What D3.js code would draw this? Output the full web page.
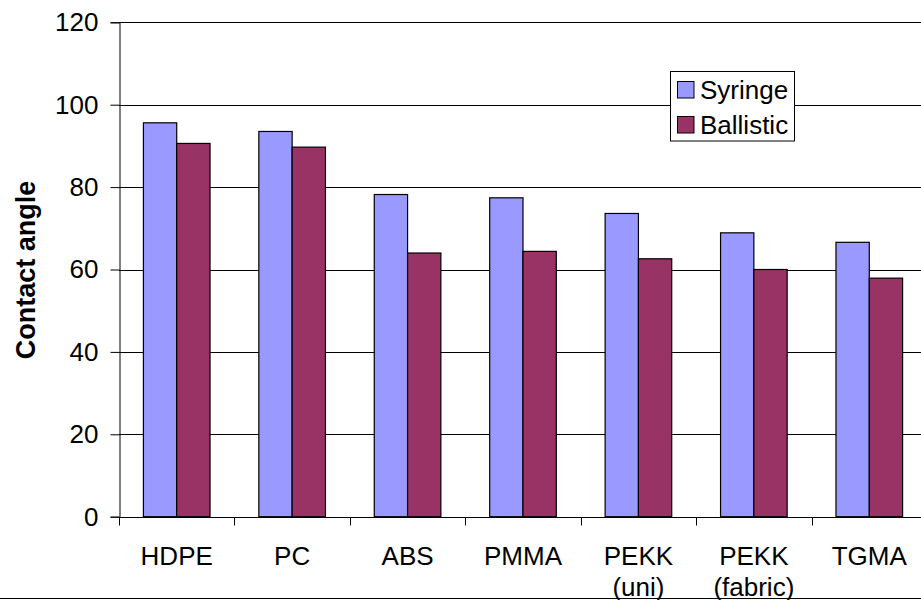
<!DOCTYPE html>
<html><head><meta charset="utf-8">
<script src="https://cdn.jsdelivr.net/npm/d3@7"></script>
<style>
html,body{margin:0;padding:0;background:#fff;overflow:hidden;}
text{font-family:"Liberation Sans",Arial,sans-serif;}
</style></head>
<body>
<svg id="c" width="921" height="600"></svg>
<script>
const categories = [["HDPE"],["PC"],["ABS"],["PMMA"],["PEKK","(uni)"],["PEKK","(fabric)"],["TGMA"]];
const seriesNames = ["Syringe","Ballistic"];
const syringe = [95.6, 93.5, 78.2, 77.4, 73.6, 68.9, 66.6];
const ballistic = [90.6, 89.7, 64.0, 64.4, 62.6, 60.0, 57.9];
const yTicks = [0,20,40,60,80,100,120];
const colors = ["#9999FF","#993366"];

(function(){
const svg = d3.select("#c");
const pLeft = 119, pRight = 927, pTop = 22.3, pBottom = 516.7;
const cats = categories.map(c => c.join(" "));
const x0 = d3.scaleBand().domain(cats).range([pLeft, pRight]).padding(0);
const x1 = d3.scaleBand().domain(seriesNames).range([0, x0.bandwidth()]).paddingInner(0).paddingOuter(0.733);
const y = d3.scaleLinear().domain([0,120]).range([pBottom, pTop]);
const values = [syringe, ballistic];

// gridlines
svg.append("g").selectAll("line").data(yTicks.filter(d=>d>0)).join("line")
  .attr("x1", pLeft).attr("x2", 921)
  .attr("y1", d=>Math.round(y(d))+0.5).attr("y2", d=>Math.round(y(d))+0.5)
  .attr("stroke","#000").attr("stroke-width",1);

// bars
const g = svg.append("g");
cats.forEach((c,i)=>{
  seriesNames.forEach((s,j)=>{
    const v = values[j][i];
    g.append("rect")
      .attr("x", x0(c)+x1(s)).attr("y", y(v))
      .attr("width", x1.bandwidth()).attr("height", y(0)-y(v))
      .attr("fill", colors[j]).attr("stroke","#000").attr("stroke-width",1.2);
  });
});

// y axis
const yAxis = d3.axisLeft(y).tickValues(yTicks).tickSize(9).tickPadding(12);
const ya = svg.append("g").attr("transform",`translate(${pLeft+0.5},0)`).call(yAxis);
ya.select(".domain").attr("stroke","#000");
ya.selectAll(".tick line").attr("stroke","#000");
ya.selectAll("text").attr("font-size",26).attr("fill","#000").attr("font-family","Liberation Sans, Arial, sans-serif");

// x axis baseline and ticks
const xa = svg.append("g").attr("transform",`translate(0,${Math.round(pBottom)+0.5})`);
xa.append("line").attr("x1",pLeft).attr("x2",921).attr("y1",0).attr("y2",0).attr("stroke","#000");
const boundaries = cats.map(c=>x0(c));
xa.selectAll("line.t").data(boundaries).join("line").attr("class","t")
  .attr("x1",d=>Math.round(d)+0.5).attr("x2",d=>Math.round(d)+0.5).attr("y1",0).attr("y2",8).attr("stroke","#000");
const lab = xa.selectAll("text.c").data(categories).join("text").attr("class","c")
  .attr("x",(d,i)=>x0(cats[i])+x0.bandwidth()/2).attr("y",47.5)
  .attr("text-anchor","middle").attr("font-size",26).attr("fill","#000");
lab.selectAll("tspan").data(d=>d).join("tspan")
  .attr("x",function(){return this.parentNode.getAttribute("x");})
  .attr("dy",(d,k)=>k===0?0:30.7).text(d=>d);

// y title
svg.append("text").attr("transform","translate(35,270) rotate(-90)")
  .attr("text-anchor","middle").attr("font-size",27).attr("font-weight","bold").attr("fill","#000")
  .text("Contact angle");

// bottom border line
svg.append("line").attr("x1",0).attr("x2",921).attr("y1",598.5).attr("y2",598.5).attr("stroke","#000");

// legend
const lg = svg.append("g");
lg.append("rect").attr("x",670.5).attr("y",71.5).attr("width",124).attr("height",69.5)
  .attr("fill","#fff").attr("stroke","#000");
seriesNames.forEach((s,j)=>{
  lg.append("rect").attr("x",677.5).attr("y",81.5+j*35).attr("width",16.5).attr("height",16.5)
    .attr("fill",colors[j]).attr("stroke","#000");
  lg.append("text").attr("x",700).attr("y",99+j*34.5).attr("font-size",26).attr("fill","#000").text(s);
});
})();
</script>
</body></html>
